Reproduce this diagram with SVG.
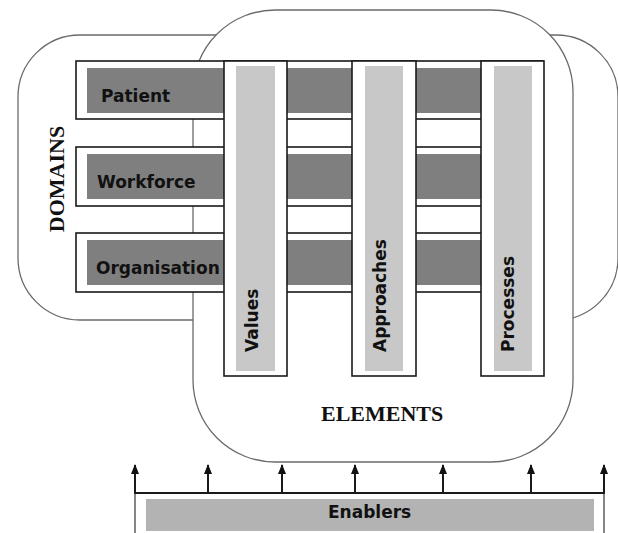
<svg xmlns="http://www.w3.org/2000/svg" width="618" height="533" viewBox="0 0 618 533">
<style>
.outline{fill:#fff;stroke:#6a6a6a;stroke-width:1.3}
.frame{fill:#fff;stroke:#1a1a1a;stroke-width:1.6}
.dark{fill:#7f7f7f}
.light{fill:#c8c8c8}
.lbl{font-family:"DejaVu Sans",Verdana,sans-serif;font-weight:bold;font-size:17px;fill:#111}
.title{font-family:"Liberation Serif","Times New Roman",serif;font-weight:bold;font-size:22px;fill:#111}
.conn{stroke:#1a1a1a;stroke-width:2;fill:none}
.thin{stroke:#444;stroke-width:1.3;fill:none}
</style>
<defs>
<marker id="ah" viewBox="0 0 10 8" refX="9" refY="4" markerWidth="10" markerHeight="8" markerUnits="userSpaceOnUse" orient="auto">
<path d="M0,0 L10,4 L0,8 Z" fill="#111"/>
</marker>
</defs>
<rect fill="#fff" x="0" y="0" width="618" height="533"/>
<g id="domains-area">
<rect class="outline" x="18" y="35" width="600" height="285" rx="62" ry="62"/>
<text class="title" transform="translate(64,179) rotate(-90)" text-anchor="middle">DOMAINS</text>
</g>
<g id="elements-area">
<rect class="outline" x="193" y="10" width="380" height="452" rx="82" ry="82"/>
<text class="title" x="321" y="421">ELEMENTS</text>
</g>
<g id="patient">
<rect class="frame" x="76" y="61" width="467" height="58"/>
<rect class="dark" x="87" y="68" width="394" height="45"/>
<text class="lbl" x="101" y="102">Patient</text>
</g>
<g id="workforce">
<rect class="frame" x="76" y="147" width="467" height="59"/>
<rect class="dark" x="87" y="154" width="394" height="45"/>
<text class="lbl" x="97" y="188">Workforce</text>
</g>
<g id="organisation">
<rect class="frame" x="76" y="233" width="467" height="59"/>
<rect class="dark" x="87" y="240" width="394" height="45"/>
<text class="lbl" x="96" y="274">Organisation</text>
</g>
<g id="values">
<rect class="frame" x="224" y="61" width="63" height="315"/>
<rect class="light" x="236" y="66" width="39" height="305"/>
<text class="lbl" transform="translate(258,352) rotate(-90)">Values</text>
</g>
<g id="approaches">
<rect class="frame" x="352" y="61" width="64" height="315"/>
<rect class="light" x="365" y="66" width="38" height="305"/>
<text class="lbl" transform="translate(386,352) rotate(-90)">Approaches</text>
</g>
<g id="processes">
<rect class="frame" x="481" y="61" width="63" height="315"/>
<rect class="light" x="494" y="66" width="38" height="305"/>
<text class="lbl" transform="translate(514,352) rotate(-90)">Processes</text>
</g>
<g id="enablers">
<rect fill="#b3b3b3" x="146" y="499" width="448" height="32"/>
<text class="lbl" x="328" y="518">Enablers</text>
</g>
<g id="connectors">
<line class="thin" x1="135" y1="493" x2="135" y2="533"/>
<line class="thin" x1="604" y1="493" x2="604" y2="533"/>
<line class="conn" x1="134" y1="493" x2="605" y2="493"/>
<line class="conn" x1="135" y1="493" x2="135" y2="465" marker-end="url(#ah)"/>
<line class="conn" x1="208" y1="493" x2="208" y2="465" marker-end="url(#ah)"/>
<line class="conn" x1="282" y1="493" x2="282" y2="465" marker-end="url(#ah)"/>
<line class="conn" x1="355" y1="493" x2="355" y2="465" marker-end="url(#ah)"/>
<line class="conn" x1="443" y1="493" x2="443" y2="465" marker-end="url(#ah)"/>
<line class="conn" x1="531" y1="493" x2="531" y2="465" marker-end="url(#ah)"/>
<line class="conn" x1="604" y1="493" x2="604" y2="465" marker-end="url(#ah)"/>
</g>
</svg>
